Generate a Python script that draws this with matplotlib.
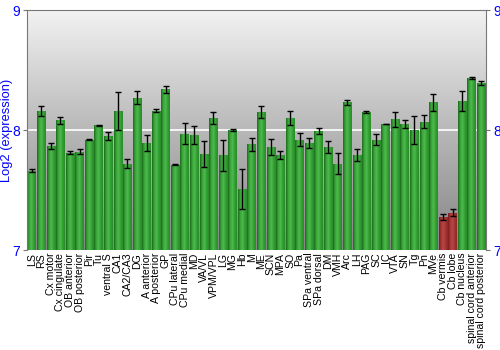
import numpy as np
import matplotlib
matplotlib.use("Agg")
import matplotlib.pyplot as plt
from matplotlib.colors import LinearSegmentedColormap

plt.rcParams['font.family'] = ['Liberation Sans', 'DejaVu Sans']

regions = ["LS", "RS", "Cx motor", "Cx cingulate", "OB anterior", "OB posterior",
           "Pir", "Tu", "ventral S", "CA1", "CA2/CA3", "DG", "A anterior",
           "A posterior", "GP", "CPu lateral", "CPu medial", "MD", "VA/VL",
           "VPM/VPL", "LG", "MG", "Hb", "M", "ME", "SCN", "MPA", "SO", "Pa",
           "SPa ventral", "SPa dorsal", "DM", "VMH", "Arc", "LH", "PAG", "SC",
           "IC", "VTA", "SN", "Tg", "Pn", "MVe", "Cb vermis", "Cb lobe",
           "Cb nucleus", "spinal cord anterior", "spinal cord posterior"]

expr = [7.66, 8.16, 7.87, 8.08, 7.81, 7.82,
        7.92, 8.04, 7.95, 8.16, 7.72, 8.27, 7.89,
        8.16, 8.34, 7.71, 7.97, 7.96, 7.80,
        8.10, 7.79, 8.00, 7.51, 7.88, 8.15, 7.86, 7.79, 8.10, 7.92,
        7.89, 7.99, 7.86, 7.72, 8.23, 7.79, 8.15, 7.92,
        8.05, 8.09, 8.05, 8.00, 8.07, 8.23, 7.275, 7.31,
        8.24, 8.43, 8.39]

err = [0.014, 0.04, 0.025, 0.03, 0.014, 0.022,
       0.003, 0.003, 0.036, 0.16, 0.036, 0.055, 0.067,
       0.014, 0.03, 0.003, 0.088, 0.074, 0.108,
       0.05, 0.13, 0.011, 0.165, 0.057, 0.05, 0.067, 0.035, 0.057, 0.054,
       0.043, 0.025, 0.05, 0.086, 0.02, 0.05, 0.008, 0.046,
       0.004, 0.062, 0.032, 0.118, 0.053, 0.072, 0.025, 0.03,
       0.083, 0.008, 0.018]

low_regions = ["Cb vermis", "Cb lobe"]

fig = plt.figure(figsize=(5, 3.5), dpi=100)
ax = fig.add_axes([0.054, 0.2857, 0.918, 0.6857])

# background gradient
bg = np.linspace(0, 1, 256).reshape(-1, 1)
bg_cmap = LinearSegmentedColormap.from_list("bg", ["#f2f2f2", "#b8b8b8", "#858585"])
ax.imshow(bg, cmap=bg_cmap, aspect="auto", extent=[0, 1, 0, 1],
          transform=ax.transAxes, zorder=0)

ax.axhline(8, color="white", lw=1.2, zorder=1)

x = np.arange(len(regions))
green = LinearSegmentedColormap.from_list("g", ["#1d6b1d", "#3aa33a", "#4dbb4d", "#33a033", "#2a8a2a"])
red = LinearSegmentedColormap.from_list("r", ["#7a1a1a", "#a83838", "#b84848", "#a23434", "#8e2828"])
bars = ax.bar(x, np.array(expr) - 7, bottom=7, width=0.9, color="none", zorder=2)
grad = np.linspace(0, 1, 64).reshape(1, -1)
for name, b in zip(regions, bars):
    cm = red if name in low_regions else green
    x0, y0 = b.get_x(), b.get_y()
    im = ax.imshow(grad, cmap=cm, aspect="auto",
                   extent=[x0, x0 + b.get_width(), y0, y0 + b.get_height()], zorder=2)
    im.set_clip_path(b)

ax.errorbar(x, expr, yerr=err, fmt="none", ecolor="black", elinewidth=1,
            capsize=2.5, capthick=1, zorder=3)

ax.set_xlim(-0.5, len(regions) - 0.5)
ax.set_ylim(7, 9)
ax.set_yticks([7, 8, 9])
ax.set_xticks(x)
ax.set_xticklabels(regions, rotation=90, fontsize=7.6)
ax.tick_params(axis="x", length=0, pad=2)
ax.tick_params(axis="y", colors="#777777", labelcolor="blue", labelsize=10,
               length=3, pad=2, labelleft=True, labelright=True, right=True)
ax.set_ylabel("Log2 (expression)", color="blue", fontsize=9.3)
ax.yaxis.set_label_coords(-0.031, 0.5)
for s in ax.spines.values():
    s.set_color("#777777")
ax.spines["bottom"].set_visible(False)

fig.savefig("out.png", dpi=100)
